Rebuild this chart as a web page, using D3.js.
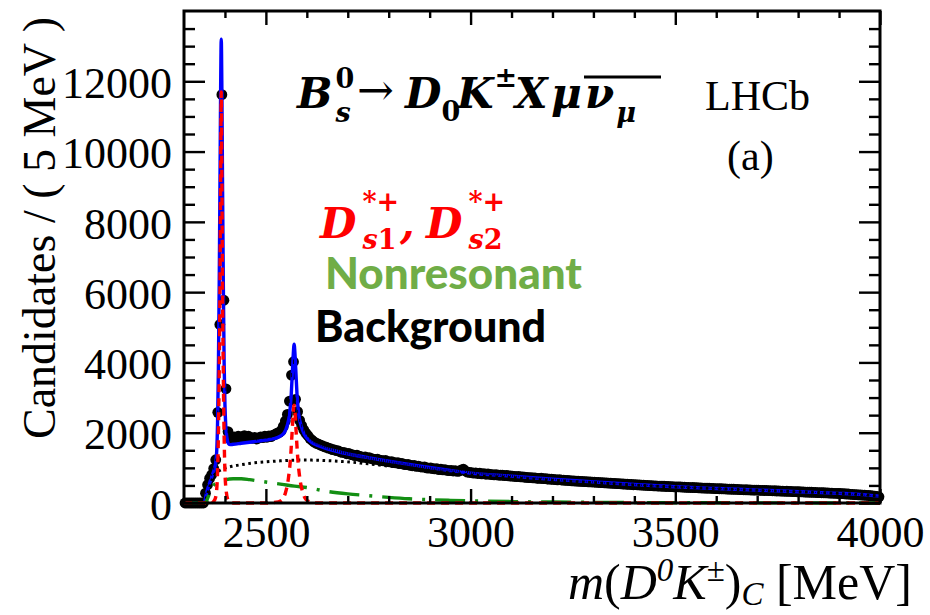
<!DOCTYPE html>
<html><head><meta charset="utf-8">
<script src="https://cdn.jsdelivr.net/npm/d3@7"></script>
<style>body{margin:0;background:#fff}svg{display:block}</style>
</head><body>
<svg id="c" width="930" height="615"></svg>
<script>
// ---------------- data ----------------
const binLow = 2300, binWidth = 5;   // MeV, 340 bins up to 4000
const counts = [
  0,0,0,0,0,0,0,0,0,0,
  280,520,700,800,980,1230,2580,5080,11620,5770,3250,2030,1830,
  1850,1880,1860,1900,1870,1890,1920,1880,1900,1860,1840,1870,1820,1850,1880,1860,1900,1870,1910,1890,1930,1950,1990,2010,
  2060,2180,2330,2520,2900,3640,4020,2950,2600,2350,2200,2080,1990,1920,1840,
  1790,1740,1700,1680,1650,1630,1600,1590,1560,1550,1520,1510,1490,1480,1450,1440,1430,1400,1410,1380,1370,1350,1360,1330,1320,1300,1310,1280,1290,1260,1250,1240,1250,1220,1210,1200,1210,1180,
  1170,1180,1150,1140,1150,1120,1130,1100,1090,1100,1070,1060,1070,1040,1050,1030,1020,1030,1000,990,1000,980,970,980,950,960,940,950,930,920,930,910,920,900,910,940,960,910,880,870,
  862,848,857,838,846,829,836,818,827,812,809,801,806,792,789,796,779,786,773,768,
  766,758,751,756,743,741,733,731,723,721,713,714,703,701,704,693,691,683,681,676,
  671,667,659,663,653,651,643,641,637,631,629,623,621,616,617,608,609,603,601,596,
  596,588,589,581,581,573,571,566,563,558,556,550,549,543,541,536,533,528,527,520,
  521,513,513,508,506,500,501,493,493,488,488,483,481,476,476,470,471,465,466,460,
  461,456,456,450,451,446,446,440,441,435,436,430,431,425,426,420,421,415,416,410,
  411,406,406,400,401,396,396,391,391,386,387,381,382,376,377,372,373,368,369,364,
  366,360,361,356,357,351,352,347,348,342,343,338,338,333,334,329,330,325,325,320,
  321,316,316,311,311,306,306,301,301,296,296,291,291,286,286,281,281,276,276,270,
  271,264,263,256,256,248,247,240,239,232,231,224,223,216,214,206,203,194,189,176
];

// total fit (blue)
const fitMass = [2300,2345,2350,2355,2360,2365,2370,2375,2378,2380,2382,2384,2386,2388,2389.5,2391,2392.5,2394,2396,2398,2400,2402,2405,2408,2412,2420,2440,2460,2480,2500,2520,2535,2545,2552,2558,2562,2565,2567,2569,2571,2573,2576,2580,2586,2593,2600,2610,2620,2635,2650,2670,2700,2730,2760,2800,2850,2900,2950,3000,3100,3200,3300,3400,3500,3600,3700,3800,3900,3950,4000];
const fitTotal = [0,0,30,280,480,650,820,1000,1200,1500,2300,3800,6200,9300,11800,13200,11800,9300,6300,4000,2800,2200,1850,1700,1660,1670,1700,1730,1760,1790,1830,1900,2000,2200,2550,3100,3800,4250,4520,4250,3800,3100,2550,2200,1980,1850,1740,1670,1600,1540,1480,1400,1330,1270,1190,1100,1010,925,850,765,675,600,525,462,412,367,322,275,245,195];

// D*s1 + D*s2 signal (red dashed)
const sigMass = [2300,2365,2372,2377,2380,2382,2384,2386,2388,2389.5,2391,2392.5,2394,2396,2398,2400,2403,2407,2412,2420,2500,2530,2540,2548,2555,2560,2564,2567,2569,2571,2574,2578,2583,2590,2598,2608,2620,4000];
const sigVals = [0,0,40,150,400,900,1900,3700,6300,9300,11700,9300,6300,3700,1900,900,350,100,20,0,0,30,100,300,700,1250,2000,2600,2780,2600,2000,1250,700,300,100,30,0,0];

// nonresonant (green dash-dot)
const nrMass = [2300,2350,2355,2360,2365,2370,2380,2390,2400,2420,2440,2460,2480,2510,2540,2570,2600,2650,2700,2750,2800,2850,2900,2950,3000,3100,3200,3300,3400,3500,3700,4000];
const nrVals = [0,0,60,200,350,460,580,630,660,690,690,665,630,580,530,480,440,330,260,210,160,120,95,75,60,40,27,18,12,8,4,1];

// combinatorial background (black dotted)
const bkgMass = [2300,2350,2355,2360,2365,2370,2375,2380,2390,2400,2420,2440,2470,2500,2530,2560,2590,2620,2650,2680,2710,2740,2770,2800,2850,2900,2950,3000,3100,3200,3300,3400,3500,3600,3700,3800,3900,3950,4000];
const bkgVals = [0,0,150,350,540,700,800,870,940,990,1050,1090,1140,1170,1195,1215,1222,1218,1205,1185,1160,1125,1090,1050,985,920,855,795,720,645,580,512,455,408,363,320,272,243,194];

const xMajorTicks = [2500,3000,3500,4000];
const xMinorTicks = [2400,2600,2700,2800,2900,3100,3200,3300,3400,3600,3700,3800,3900];
const yMajorTicks = [0,2000,4000,6000,8000,10000,12000];
const yMinorTicks = [500,1000,1500,2500,3000,3500,4500,5000,5500,6500,7000,7500,8500,9000,9500,10500,11000,11500,12500,13000,13500];

// ---------------- drawing ----------------
const svg = d3.select("#c");
const L = 184, R = 880, T = 11, B = 503;
const x = d3.scaleLinear().domain([2300, 4000]).range([L, R]);
const y = d3.scaleLinear().domain([0, 14000]).range([B, T]);
const serif = "'Liberation Serif','Times New Roman',serif";

const centers = counts.map((_, i) => binLow + binWidth * (i + 0.5));

// data points
svg.append("g").selectAll("circle").data(counts).join("circle")
  .attr("cx", (d, i) => x(centers[i])).attr("cy", d => y(d))
  .attr("r", 5.4).attr("fill", "#000");

const line = d3.line().x(d => x(d[0])).y(d => y(d[1])).curve(d3.curveMonotoneX);
const zip = (a, b) => a.map((v, i) => [v, b[i]]);

svg.append("path").attr("d", line(zip(fitMass, fitTotal)))
  .attr("fill", "none").attr("stroke", "#0000ff").attr("stroke-width", 3.4);

// error bars on top of curve
svg.append("g").selectAll("line").data(counts).join("line")
  .attr("x1", (d, i) => x(centers[i])).attr("x2", (d, i) => x(centers[i]))
  .attr("y1", d => y(d + Math.sqrt(d))).attr("y2", d => y(Math.max(0, d - Math.sqrt(d))))
  .attr("stroke", "#000").attr("stroke-width", 0.8);

svg.append("path").attr("d", line(zip(bkgMass, bkgVals)))
  .attr("fill", "none").attr("stroke", "#000").attr("stroke-width", 3)
  .attr("stroke-dasharray", "2.6,3.6");
svg.append("path").attr("d", line(zip(nrMass, nrVals)))
  .attr("fill", "none").attr("stroke", "#138f13").attr("stroke-width", 3.4)
  .attr("stroke-dasharray", "30,10,3,10");
svg.append("path").attr("d", line(zip(sigMass, sigVals)))
  .attr("fill", "none").attr("stroke", "#ff0000").attr("stroke-width", 3.4)
  .attr("stroke-dasharray", "8,6");

// axes
function clean(g) {
  g.select(".domain").remove();
  g.attr("font-family", null).attr("font-size", null);
  g.selectAll("line").attr("stroke", "#000").attr("stroke-width", 2.4);
}
const gyl = svg.append("g").attr("transform", `translate(${L},0)`)
  .call(d3.axisLeft(y).tickValues(yMajorTicks).tickSize(-21).tickPadding(12).tickFormat(d3.format("d")));
clean(gyl);
gyl.selectAll("text").attr("dy", "0.37em").attr("font-family", serif).style("font-family", serif).style("font-size", "44px").attr("fill", "#000");
const gylm = svg.append("g").attr("transform", `translate(${L},0)`)
  .call(d3.axisLeft(y).tickValues(yMinorTicks).tickSize(-11).tickFormat(""));
clean(gylm);
const gyr = svg.append("g").attr("transform", `translate(${R},0)`)
  .call(d3.axisRight(y).tickValues(yMajorTicks).tickSize(-21).tickFormat(""));
clean(gyr);
const gyrm = svg.append("g").attr("transform", `translate(${R},0)`)
  .call(d3.axisRight(y).tickValues(yMinorTicks).tickSize(-11).tickFormat(""));
clean(gyrm);

const gxb = svg.append("g").attr("transform", `translate(0,${B})`)
  .call(d3.axisBottom(x).tickValues(xMajorTicks).tickSize(-14).tickPadding(13).tickFormat(d3.format("d")));
clean(gxb);
gxb.selectAll("text").attr("font-family", serif).style("font-family", serif).style("font-size", "44px").attr("fill", "#000");
const gxbm = svg.append("g").attr("transform", `translate(0,${B})`)
  .call(d3.axisBottom(x).tickValues(xMinorTicks).tickSize(-7).tickFormat(""));
clean(gxbm);
const gxt = svg.append("g").attr("transform", `translate(0,${T})`)
  .call(d3.axisTop(x).tickValues(xMajorTicks).tickSize(-14).tickFormat(""));
clean(gxt);
const gxtm = svg.append("g").attr("transform", `translate(0,${T})`)
  .call(d3.axisTop(x).tickValues(xMinorTicks).tickSize(-7).tickFormat(""));
clean(gxtm);

svg.append("rect").attr("x", L).attr("y", T).attr("width", R - L).attr("height", B - T)
  .attr("fill", "none").attr("stroke", "#000").attr("stroke-width", 3);

// axis titles
svg.append("text").attr("transform", "translate(55,228) rotate(-90)")
  .attr("text-anchor", "middle").style("font-family", serif).style("font-size", "46px")
  .text("Candidates / ( 5 MeV )");

const xt = svg.append("text").attr("x", 912).attr("y", 599).attr("text-anchor", "end")
  .style("font-family", serif).style("font-size", "50px");
xt.append("tspan").style("font-style", "italic").text("m");
xt.append("tspan").text("(");
xt.append("tspan").style("font-style", "italic").text("D");
xt.append("tspan").attr("dy", -18).style("font-size", "33px").style("font-style", "italic").text("0");
xt.append("tspan").attr("dy", 18).style("font-style", "italic").text("K");
xt.append("tspan").attr("dy", -18).style("font-size", "33px").text("±");
xt.append("tspan").attr("dy", 18).text(")");
xt.append("tspan").attr("dy", 6).style("font-style", "italic").style("font-size", "33px").text("C");
xt.append("tspan").attr("dy", -6).text(" [MeV]");

// rich text helpers
const mathF = "'DejaVu Serif',serif";
function put(s, px, py, size, opt = {}) {
  return svg.append("text").attr("x", px).attr("y", py)
    .style("font-family", opt.family || mathF).style("font-size", size + "px")
    .style("font-weight", opt.weight || "bold").style("font-style", opt.style || "italic")
    .attr("fill", opt.fill || "#000").text(s);
}
// base letter with stacked superscript and subscript, in ONE text element
function stacked(px, py, base, sup, sub, subRest, size, small, fill, supUp, subDown, gap) {
  const t = put(base, px, py, size, {fill});
  const tsup = t.append("tspan").attr("dx", gap).attr("dy", -supUp).style("font-size", small + "px").text(sup);
  if (/^[0-9]/.test(sup)) tsup.style("font-style", "normal");
  const w = tsup.node().getComputedTextLength();
  t.append("tspan").attr("dx", -w).attr("dy", supUp + subDown).style("font-size", small + "px").text(sub);
  if (subRest) t.append("tspan").style("font-size", small + "px").style("font-style", "normal").text(subRest);
  return t;
}

// decay title
stacked(297, 108, "B", "0", "s", "", 42, 27, "#000", 20, 14, 3);
put("→", 357, 105, 44, {weight: "normal", style: "normal"});
const tD = put("D", 405, 108, 42);
tD.append("tspan").attr("dy", 13).style("font-size", "27px").style("font-style", "normal").text("0");
const tK = put("K", 457, 108, 42);
tK.append("tspan").attr("dx", 1).attr("dy", -21).style("font-size", "27px").style("font-style", "normal").text("±");
put("X", 515, 108, 42);
put("μ", 551, 108, 42);
const tnu = put("ν", 585, 108, 42);
tnu.append("tspan").attr("dx", 2).attr("dy", 14).style("font-size", "27px").text("μ");
svg.append("line").attr("x1", 584).attr("x2", 661).attr("y1", 77).attr("y2", 77)
  .attr("stroke", "#000").attr("stroke-width", 3);

put("LHCb", 705, 110, 42, {family: serif, weight: "normal", style: "normal"});
put("(a)", 727, 170, 42, {family: serif, weight: "normal", style: "normal"});

// labels
const red = "#ff0000";
stacked(320, 238, "D", "*+", "s", "1", 42, 27, red, 27, 11, 6);
put(",", 400, 238, 42, {fill: red});
stacked(426, 238, "D", "*+", "s", "2", 42, 27, red, 27, 11, 6);

const sans = "Lato,'Open Sans',sans-serif";
put("Nonresonant", 325, 289, 44, {family: sans, style: "normal", weight: "900", fill: "#70ad47"});
put("Background", 315, 342, 43, {family: sans, style: "normal", weight: "900", fill: "#000"});
</script>
</body></html>
